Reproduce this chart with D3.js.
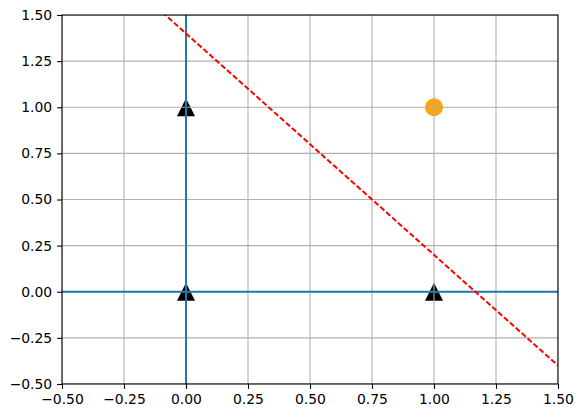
<!DOCTYPE html>
<html><head><meta charset="utf-8">
<script src="https://cdn.jsdelivr.net/npm/d3@7"></script>
<style>body{margin:0;background:#fff}svg{display:block}</style>
</head><body>
<script>
const xTicks = [-0.5,-0.25,0,0.25,0.5,0.75,1,1.25,1.5];
const yTicks = [-0.5,-0.25,0,0.25,0.5,0.75,1,1.25,1.5];
const triX = [0, 0, 1];
const triY = [0, 1, 0];
const circX = [1];
const circY = [1];
const lineX = [-0.5, 1.5];
const lineY = lineX.map(x => -1.2*x + 1.4);

const W=583,H=418, L=62, R=558, T=15, B=384;
const svg=d3.select("body").append("svg").attr("width",W).attr("height",H);
const x=d3.scaleLinear().domain([-0.5,1.5]).range([L,R]);
const y=d3.scaleLinear().domain([-0.5,1.5]).range([B,T]);
const fmt=v=>{const s=v.toFixed(2);return v<0?"\u2212"+s.slice(1):s;};

svg.append("defs").append("clipPath").attr("id","c").append("rect")
  .attr("x",L).attr("y",T).attr("width",R-L).attr("height",B-T);
const g=svg.append("g").attr("clip-path","url(#c)");

// markers
g.selectAll("path.tri").data(triX.map((d,i)=>[d,triY[i]])).enter().append("path")
  .attr("d",d=>{const cx=x(d[0]),cy=y(d[1]);return `M${cx},${cy-9}L${cx+9},${cy+9}L${cx-9},${cy+9}Z`;})
  .attr("fill","#000");
g.selectAll("circle").data(circX.map((d,i)=>[d,circY[i]])).enter().append("circle")
  .attr("cx",d=>x(d[0])).attr("cy",d=>y(d[1])).attr("r",9).attr("fill","#ffa500");

// grid
g.selectAll("line.gx").data(xTicks).enter().append("line")
  .attr("x1",d=>x(d)).attr("x2",d=>x(d)).attr("y1",T).attr("y2",B)
  .attr("stroke","#b0b0b0").attr("stroke-width",1.1);
g.selectAll("line.gy").data(yTicks).enter().append("line")
  .attr("y1",d=>y(d)).attr("y2",d=>y(d)).attr("x1",L).attr("x2",R)
  .attr("stroke","#b0b0b0").attr("stroke-width",1.1);

// axhline / axvline
g.append("line").attr("x1",L).attr("x2",R).attr("y1",y(0)).attr("y2",y(0))
  .attr("stroke","#1f77b4").attr("stroke-width",2);
g.append("line").attr("x1",x(0)).attr("x2",x(0)).attr("y1",T).attr("y2",B)
  .attr("stroke","#1f77b4").attr("stroke-width",2);

// red dashed line
g.append("path").datum(lineX.map((d,i)=>[d,lineY[i]]))
  .attr("d",d3.line().x(d=>x(d[0])).y(d=>y(d[1])))
  .attr("fill","none").attr("stroke","red").attr("stroke-width",2)
  .attr("stroke-dasharray","5.5,2.4");

// axes
const ax=svg.append("g").attr("transform",`translate(0,${B})`)
  .call(d3.axisBottom(x).tickValues(xTicks).tickFormat(fmt).tickSize(4.9).tickPadding(4.9));
const ay=svg.append("g").attr("transform",`translate(${L},0)`)
  .call(d3.axisLeft(y).tickValues(yTicks).tickFormat(fmt).tickSize(4.9).tickPadding(4.9));
[ax,ay].forEach(a=>{
  a.select(".domain").remove();
  a.selectAll("line").attr("stroke","#000").attr("stroke-width",1.1);
  a.selectAll("text").attr("fill","#000").style("font-family","DejaVu Sans").style("font-size","13.9px");
});
svg.append("rect").attr("x",L).attr("y",T).attr("width",R-L).attr("height",B-T)
  .attr("fill","none").attr("stroke","#000").attr("stroke-width",1.1);
</script>
</body></html>
